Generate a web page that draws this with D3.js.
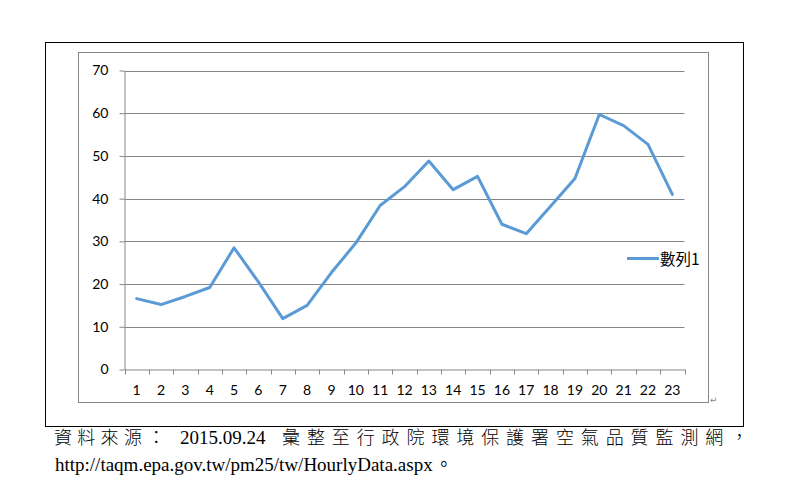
<!DOCTYPE html>
<html><head><meta charset="utf-8">
<script src="https://cdn.jsdelivr.net/npm/d3@7"></script>
<style>html,body{margin:0;padding:0;background:#fff;}svg{display:block;}</style>
</head><body>
<svg id="c" width="787" height="493"></svg>
<script>
const categories = ["1","2","3","4","5","6","7","8","9","10","11","12","13","14","15","16","17","18","19","20","21","22","23"];
const values = [16.6,15.2,17.1,19.2,28.5,20.5,11.9,15.0,22.7,29.6,38.4,42.8,48.8,42.1,45.2,34.0,31.8,38.2,44.7,59.7,57.1,52.7,41.0];
const seriesName = "數列1";
const yTicks = [0,10,20,30,40,50,60,70];
const sourceA = "資料來源：";
const sourceDate = "2015.09.24";
const sourceB = "彙整至行政院環境保護署空氣品質監測網，";
const sourceUrl = "http://taqm.epa.gov.tw/pm25/tw/HourlyData.aspx";

const svg = d3.select("#c");
const grid = "#868686";
const blue = "#5B9BD5";
const tickFont = "Lato, 'Open Sans', sans-serif";

// outer frame and chart area border
svg.append("rect").attr("x",45.5).attr("y",42.5).attr("width",698).attr("height",384)
  .attr("fill","none").attr("stroke","#000").attr("stroke-width",1);
svg.append("rect").attr("x",78.5).attr("y",52.5).attr("width",630).attr("height",350)
  .attr("fill","none").attr("stroke",grid).attr("stroke-width",1);

const x = d3.scaleBand().domain(categories).range([124.5,684.5]).padding(0);
const y = d3.scaleLinear().domain([0,70]).range([369.5,70.5]);

// gridlines
svg.append("g").selectAll("line").data(yTicks.filter(d=>d>0)).join("line")
  .attr("x1",124.5).attr("x2",684.5)
  .attr("y1",d=>Math.round(y(d))+0.5).attr("y2",d=>Math.round(y(d))+0.5)
  .attr("stroke",grid).attr("stroke-width",1);

// y axis
const yAxis = svg.append("g").attr("transform","translate(124.5,0)")
  .call(d3.axisLeft(y).tickValues(yTicks).tickSize(5).tickPadding(11).tickSizeOuter(0));
yAxis.select(".domain").attr("stroke",grid);
yAxis.selectAll(".tick line").attr("stroke",grid);
yAxis.selectAll(".tick text").attr("fill","#000").style("font-family",tickFont).style("font-size","14px");

// x axis
const xAxis = svg.append("g").attr("transform","translate(0,369.5)")
  .call(d3.axisBottom(x).tickSize(0).tickPadding(16).tickSizeOuter(0));
xAxis.select(".domain").attr("stroke",grid);
xAxis.selectAll(".tick text").attr("fill","#000").style("font-family",tickFont).style("font-size","14px");
const bounds = categories.map(c=>x(c)).concat([x(categories[categories.length-1])+x.bandwidth()]);
svg.append("g").selectAll("line").data(bounds).join("line")
  .attr("x1",d=>Math.round(d)+0.5).attr("x2",d=>Math.round(d)+0.5)
  .attr("y1",369.5).attr("y2",374.5).attr("stroke",grid);

// series line
const line = d3.line().x((d,i)=>x(categories[i])+x.bandwidth()/2).y(d=>y(d));
svg.append("path").datum(values).attr("d",line)
  .attr("fill","none").attr("stroke",blue).attr("stroke-width",3)
  .attr("stroke-linejoin","round").attr("stroke-linecap","round");

// legend
svg.append("line").attr("x1",627).attr("x2",659).attr("y1",258.5).attr("y2",258.5)
  .attr("stroke",blue).attr("stroke-width",3);
svg.append("text").attr("x",660).attr("y",264.5).text(seriesName)
  .style("font-family","'Noto Sans CJK TC', sans-serif").style("font-size","15.5px").attr("fill","#000");

// paragraph mark
svg.append("text").attr("x",710).attr("y",403).text("↵")
  .style("font-family","'DejaVu Sans', sans-serif").style("font-size","9px").attr("fill","#888");

// source text
const cjk = "'Noto Sans CJK TC', sans-serif";
const serif = "'Liberation Serif', 'Times New Roman', serif";
svg.append("text").attr("x",54).attr("y",443.5).text(sourceA)
  .style("letter-spacing","5.3px")
  .style("font-family",cjk).style("font-size","18px").style("font-weight","300").attr("fill","#000");
svg.append("text").attr("x",180).attr("y",443.5).text(sourceDate)
  .style("font-family",serif).style("font-size","19px").attr("fill","#000");
svg.append("text").attr("x",282).attr("y",443.5).text(sourceB)
  .style("letter-spacing","6.9px")
  .style("font-family",cjk).style("font-size","18px").style("font-weight","300").attr("fill","#000");
const urlText = svg.append("text").attr("x",55).attr("y",471).text(sourceUrl)
  .style("font-family",serif).style("font-size","19px").attr("fill","#000");
const urlEnd = 55 + urlText.node().getComputedTextLength();
svg.append("text").attr("x",urlEnd + 2).attr("y",471).text("。")
  .style("font-family",cjk).style("font-size","18px").attr("fill","#000");
</script>
</body></html>
